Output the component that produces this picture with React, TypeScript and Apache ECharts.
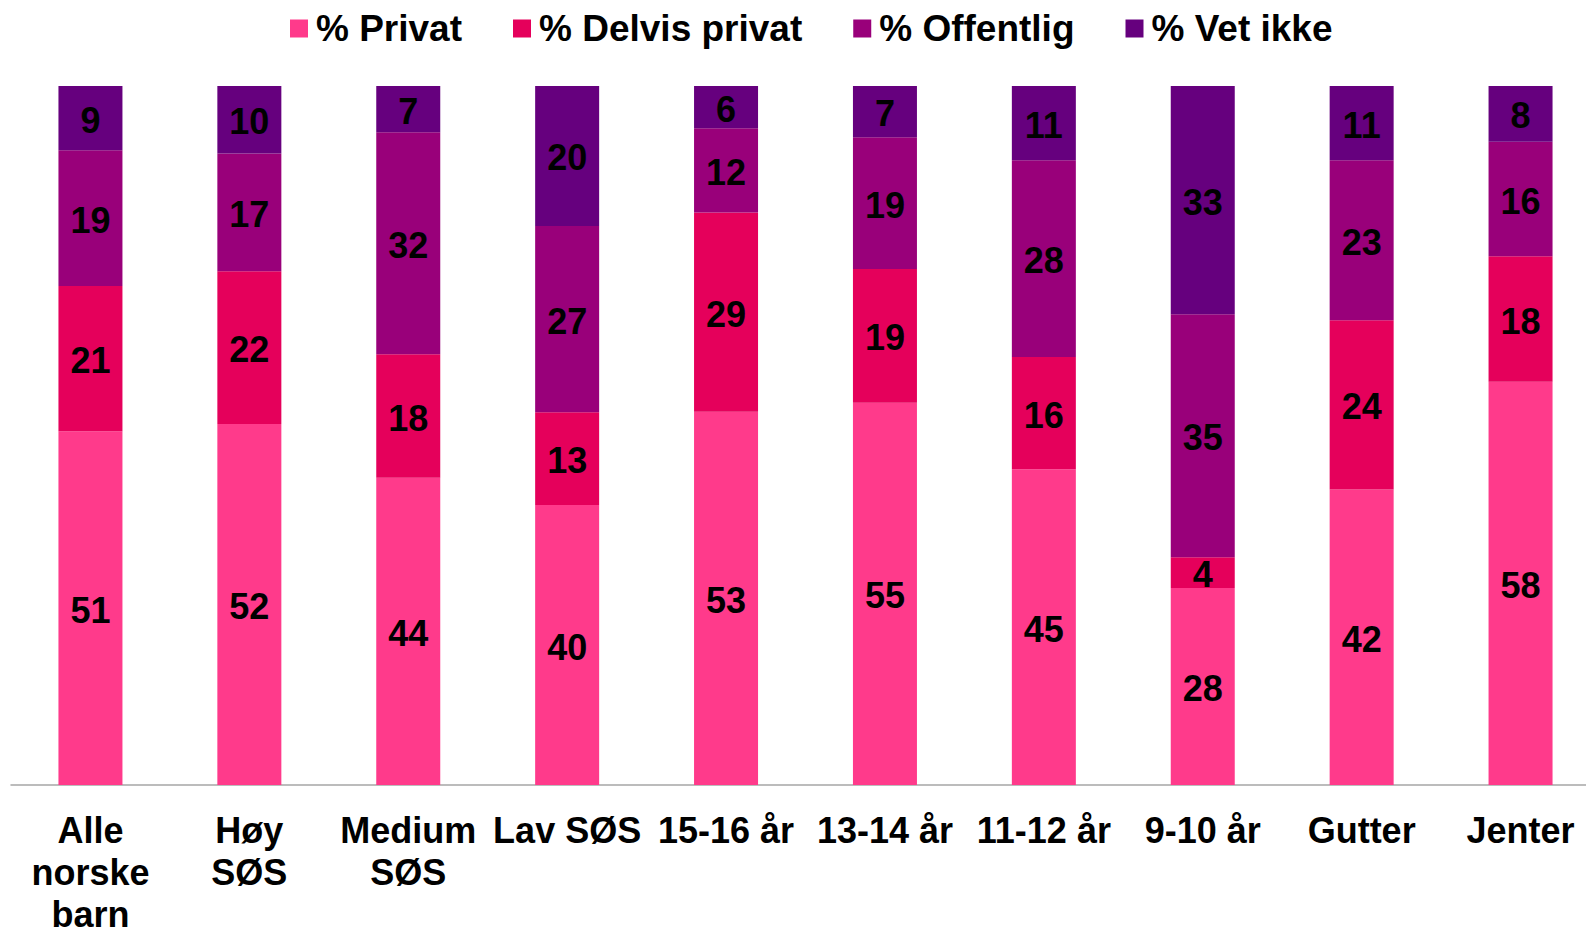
import React, { useEffect, useRef } from "react";
import * as echarts from "echarts";

const categories = [
  "Alle\nnorske\nbarn",
  "Høy\nSØS",
  "Medium\nSØS",
  "Lav SØS",
  "15-16 år",
  "13-14 år",
  "11-12 år",
  "9-10 år",
  "Gutter",
  "Jenter",
];

const privat = [50.6, 51.65, 43.94, 40.05, 53.4, 54.7, 45.17, 28.19, 42.26, 57.68];
const delvisPrivat = [20.8, 21.84, 17.69, 13.29, 28.52, 19.12, 16.07, 4.41, 24.24, 17.95];
const offentlig = [19.4, 16.85, 31.76, 26.64, 12.05, 18.86, 28.13, 34.74, 22.88, 16.4];
const vetIkke = [9.2, 9.66, 6.61, 20.02, 6.03, 7.32, 10.63, 32.66, 10.62, 7.97];

const seriesNames = ["% Privat", "% Delvis privat", "% Offentlig", "% Vet ikke"];
const colors = ["#FF3A8B", "#E5005B", "#99007A", "#66007E"];

const FONT = "'Liberation Sans', Arial, Helvetica, sans-serif";

export default function App() {
  const ref = useRef<HTMLDivElement>(null);

  useEffect(() => {
    if (!ref.current) return;
    const chart = echarts.init(ref.current, null, { renderer: "svg" });
    const data = [privat, delvisPrivat, offentlig, vetIkke];
    chart.setOption({
      animation: false,
      backgroundColor: "#ffffff",
      legend: {
        top: 5,
        left: 285,
        itemWidth: 18,
        itemHeight: 18,
        itemGap: 51,
        icon: "rect",
        data: seriesNames,
        textStyle: {
          fontFamily: FONT,
          fontSize: 37,
          fontWeight: "bold",
          color: "#000000",
          lineHeight: 37,
          padding: [0, 0, 0, 3],
        },
      },
      grid: {
        left: 11,
        right: -14,
        top: 86,
        bottom: 145,
        containLabel: false,
        outerBoundsMode: "none",
      },
      xAxis: {
        type: "category",
        data: categories,
        axisLine: { show: true, lineStyle: { color: "#A6A6A6", width: 1.5 } },
        axisTick: { show: false },
        axisLabel: {
          interval: 0,
          margin: 24,
          fontFamily: FONT,
          fontSize: 36,
          fontWeight: "bold",
          color: "#000000",
          lineHeight: 42,
        },
      },
      yAxis: {
        type: "value",
        min: 0,
        max: 100,
        show: false,
        splitLine: { show: false },
      },
      series: data.map((d, i) => ({
        name: seriesNames[i],
        type: "bar",
        stack: "total",
        barWidth: 64,
        data: d,
        itemStyle: { color: colors[i] },
        label: {
          show: true,
          position: "inside",
          offset: [0, 2],
          fontFamily: FONT,
          fontSize: 36,
          fontWeight: "bold",
          color: "#000000",
          formatter: (p: any) => String(Math.round(p.value)),
        },
      })),
    });
    return () => chart.dispose();
  }, []);

  return (
    <div
      ref={ref}
      style={{ position: "fixed", left: 0, top: 0, width: 1586, height: 930, background: "#fff" }}
    />
  );
}
